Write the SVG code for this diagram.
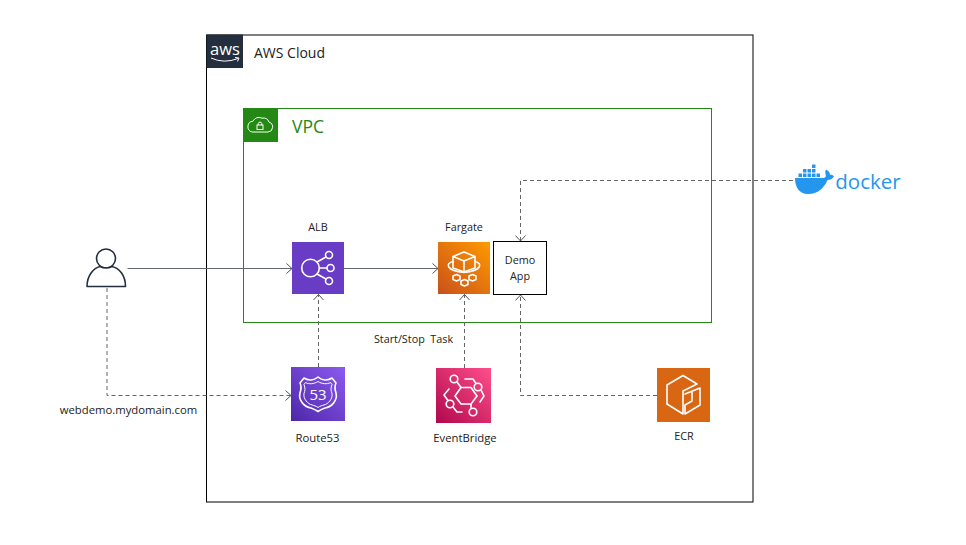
<svg xmlns="http://www.w3.org/2000/svg" width="966" height="545" viewBox="0 0 966 545">
<defs>
<style>
text{font-family:"Open Sans","Noto Sans","Liberation Sans",sans-serif;font-size:10.8px;fill:#222;text-anchor:middle}
.ico{fill:none;stroke:#fff;stroke-width:1.6;stroke-linejoin:round;stroke-linecap:round}
.solid{fill:none;stroke:#5f6873;stroke-width:1;marker-end:url(#arr)}
.dash{fill:none;stroke:#666;stroke-width:1;stroke-dasharray:4 3;marker-end:url(#arr)}
</style>
<marker id="arr" markerWidth="12" markerHeight="12" refX="9" refY="6" orient="auto" markerUnits="userSpaceOnUse"><path d="M3.5 1 L9 6 L3.5 11" fill="none" stroke="#555" stroke-width="1"/></marker>
<linearGradient id="gPurple" x1="0" y1="1" x2="1" y2="0"><stop offset="0" stop-color="#4d27a8"/><stop offset="1" stop-color="#8c5af0"/></linearGradient>
<linearGradient id="gOrange" x1="0" y1="1" x2="1" y2="0"><stop offset="0" stop-color="#c8511b"/><stop offset="1" stop-color="#ff9900"/></linearGradient>
<linearGradient id="gPink" x1="0" y1="1" x2="1" y2="0"><stop offset="0" stop-color="#b0084d"/><stop offset="1" stop-color="#ff4f8b"/></linearGradient>
</defs>
<rect width="966" height="545" fill="#fff"/>

<g id="aws-cloud">
<rect x="206.500" y="35" width="546.500" height="467" fill="#fff" stroke="#000" stroke-width="1"/>
<rect x="206.500" y="34.500" width="36.500" height="33.500" fill="#232f3e"/>
<text x="225" y="55" style="font-size:16.500px;font-weight:400;fill:#fff">aws</text>
<path d="M211 58 Q224 64 238 58.500 M235 57.500 L239 58 L237.500 61.500" fill="none" stroke="#fff" stroke-width="1"/>
<text x="289.500" y="58" style="font-size:14px">AWS Cloud</text>
</g>

<g id="vpc">
<rect x="243.500" y="108.500" width="468" height="214" fill="none" stroke="#248814" stroke-width="1"/>
<rect x="243.500" y="108.500" width="34.500" height="33.500" fill="#248814"/>
<path d="M252 132 h16 a5 5 0 0 0 1 -9.800 a5.500 5.500 0 0 0 -7 -4 a6.500 6.500 0 0 0 -9 3 a5.500 5.500 0 0 0 -1 10.800 z" fill="none" stroke="#fff" stroke-width="1"/>
<rect x="257" y="125" width="6" height="4.500" fill="none" stroke="#fff" stroke-width="1"/>
<path d="M258.300 125 v-1.500 a1.800 1.800 0 0 1 3.500 0 v1.500" fill="none" stroke="#fff" stroke-width="1"/>
<text x="308" y="133" style="font-size:17.500px;fill:#248814">VPC</text>
</g>

<g id="connectors">
<path class="solid" d="M127.500 268.500 H292"/>
<path class="solid" d="M344 268.500 H438"/>
<path class="dash" d="M793 180.500 H520.500 V241"/>
<path class="dash" d="M107 288 V395.500 H291"/>
<path class="dash" d="M318.500 367 V294.500"/>
<path class="dash" d="M464.500 368 V294.500"/>
<path class="dash" d="M657 395.500 H520.500 V295"/>
</g>

<g id="user">
<circle cx="106" cy="258.500" r="9.500" fill="#fff" stroke="#232f3e" stroke-width="1.600"/>
<path d="M87 286.500 C87 275 94 268 100 266.500 C104 268.500 108 268.500 112 266.500 C119 268 125.500 275 125.500 286.500 Z" fill="#fff" stroke="#232f3e" stroke-width="1.600" stroke-linejoin="round"/>
</g>
<text x="128.500" y="413.500" style="font-size:11.300px">webdemo.mydomain.com</text>

<g id="alb">
<rect x="292" y="242" width="52" height="52" fill="#693cc5"/>
<circle class="ico" cx="310.500" cy="268" r="8.800"/>
<circle class="ico" cx="329" cy="255" r="3.500"/>
<circle class="ico" cx="330.500" cy="268" r="3.500"/>
<circle class="ico" cx="329" cy="281" r="3.500"/>
<path class="ico" d="M317 262 L326 257 M319.500 268 H327 M317 274 L326 279"/>
<text x="318" y="231">ALB</text>
</g>

<g id="fargate">
<rect x="438" y="242" width="52" height="52" fill="url(#gOrange)"/>
<path class="ico" d="M464 252 L475 256.500 V268 L464 272 L453 268 V256.500 Z M453 256.500 L464 261 L475 256.500 M464 261 V272"/>
<path class="ico" d="M453 261.500 C445 263 446 271 464 272.500 C482 271 483 263 475 261.500"/>
<path class="ico" d="M453 276 l3.500 -1.500 l3.500 1.500 v3.500 l-3.500 1.500 l-3.500 -1.500 Z M461 281 l3.500 -1.500 l3.500 1.500 v3.500 l-3.500 1.500 l-3.500 -1.500 Z M469 276 l3.500 -1.500 l3.500 1.500 v3.500 l-3.500 1.500 l-3.500 -1.500 Z"/>
<text x="464" y="231">Fargate</text>
</g>

<g id="demo-app">
<rect x="493.500" y="241.500" width="53" height="53" fill="#fff" stroke="#000" stroke-width="1"/>
<text x="520" y="264">Demo</text>
<text x="520" y="280">App</text>
</g>

<text x="413.500" y="343" xml:space="preserve">Start/Stop  Task</text>

<g id="route53">
<rect x="291" y="367" width="54" height="54" fill="url(#gPurple)"/>
<path class="ico" d="M318 377 C322 380.500 328 381 332 378 L336 383 C334 387 335 390 336 393 C338 401 331 407 325 408 C322 409 320 410 318 411.500 C316 410 314 409 311 408 C305 407 298 401 300 393 C301 390 302 387 300 383 L304 378 C308 381 314 380.500 318 377 Z"/>
<path d="M318 381.500 C322 384 327 384.500 330.500 382.500 L332 384.500 C330.500 388 331 391 332 393.500 C333 399 328 404 324 405 C322 405.500 320 406 318 407.500 C316 406 314 405.500 312 405 C308 404 303 399 304 393.500 C305 391 305.500 388 304 384.500 L305.500 382.500 C309 384.500 314 384 318 381.500 Z" fill="none" stroke="#fff" stroke-width="1"/>
<text x="318" y="400" style="font-size:15px;fill:#fff">53</text>
<text x="317.500" y="441.500" style="font-size:11.300px">Route53</text>
</g>

<g id="eventbridge">
<rect x="436" y="368" width="55" height="55" fill="url(#gPink)"/>
<path class="ico" d="M455 396 L461 387.500 H471 L477 396 L471 404 H461 Z"/>
<circle class="ico" cx="454" cy="379" r="3.800"/>
<circle class="ico" cx="478" cy="387" r="3.800"/>
<circle class="ico" cx="450" cy="404" r="3.800"/>
<circle class="ico" cx="473" cy="412" r="3.800"/>
<path class="ico" d="M457 382 L461 387.500 M471 404 L471 408.500 M465 379 H473 L476 383.500 M481 390 L484 396 L480 402 M449 389 L444 395 L448 400.500 M453 407 L457 412 H462"/>
<text x="465" y="441.500" style="font-size:11.300px">EventBridge</text>
</g>

<g id="ecr">
<rect x="657" y="368" width="53" height="54" fill="#d86613"/>
<path class="ico" d="M683 375.500 L697 384 L683 391 V414 L667 404 V385 Z"/>
<path class="ico" d="M685 394 L700 388 V405 L685 414 V405 L692 401 V392"/>
<text x="684" y="440">ECR</text>
</g>

<g id="docker">
<path d="M795 178 H822 C824 178 825 178 826 176 C825 173 825 171 826 169.500 C829 171 830 173 830 175 C831 174.500 833 175 834 176.500 C832.500 179 830 180 827.500 180 C824 188 818 194 808 194 C799 194 795 187 795 178 Z" fill="#2496ed"/>
<path d="M798.500 173.500h3.500v3.500h-3.500zM803 173.500h3.500v3.500h-3.500zM807.500 173.500h3.500v3.500h-3.500zM812 173.500h3.500v3.500h-3.500zM816.500 173.500h3.500v3.500h-3.500zM803 169h3.500v3.500h-3.500zM807.500 169h3.500v3.500h-3.500zM812 169h3.500v3.500h-3.500zM812 164.500h3.500v3.500h-3.500z" fill="#2496ed"/>
<text x="868" y="189" style="font-size:20.500px;fill:#2496ed;font-weight:400">docker</text>
</g>
</svg>
